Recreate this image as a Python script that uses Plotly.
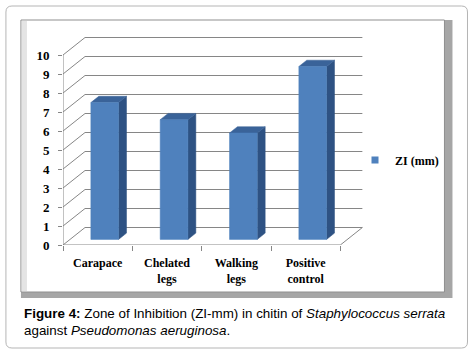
import plotly.graph_objects as go

categories = ["Carapace", "Chelated<br>legs", "Walking<br>legs", "Positive<br>control"]
zi_values = [7.2, 6.3, 5.6, 9.1]
y_ticks = list(range(0, 11))
series_name = "ZI (mm)"

# geometry (pixels) for the frame / plot mapping
FIG_W, FIG_H = 474, 354
L, B = 63, 245          # px of data (0,0)
PX_PER_CAT = 69.25
PX_PER_VAL = 19.0
XR = 4.5
YR = 11.0
W = XR * PX_PER_CAT
H = YR * PX_PER_VAL

DX = 22 / PX_PER_CAT    # depth offset in category units
DY = 17.5 / PX_PER_VAL  # depth offset in value units
D0, D1 = 0.32, 0.68     # bar depth extents
HW = 0.2                # half bar width

GRID = "#868686"
FRONT = "#4F81BD"
SIDE = "#2E5283"
TOP = "#3A6399"
SERIF = "Times New Roman, Liberation Serif, serif"
SANS = "Arial, Liberation Sans, sans-serif"


def px2x(px):
    return (px - L) / W


def py2y(py):
    return (B - py) / H


fig = go.Figure()

# walls: left wall diagonals + back wall gridlines
n = len(categories)
wx, wy = [], []
for v in y_ticks[1:]:
    wx += [0, DX, n + DX, None]
    wy += [v, v + DY, v + DY, None]
# floor
wx += [0, DX, n + DX, n, 0, None]
wy += [0, DY, DY, 0, 0, None]
# front value axis line
wx += [0, 0]
wy += [0, y_ticks[-1]]
fig.add_trace(go.Scatter(x=wx, y=wy, mode="lines", line=dict(color=GRID, width=1),
                         hoverinfo="skip", showlegend=False))

# 3D bars: front, side and top faces
for i, v in enumerate(zi_values):
    c = i + 0.5
    xl, xr = c - HW, c + HW
    fig.add_trace(go.Scatter(
        x=[xr + D0 * DX, xr + D1 * DX, xr + D1 * DX, xr + D0 * DX, xr + D0 * DX],
        y=[D0 * DY, D1 * DY, v + D1 * DY, v + D0 * DY, D0 * DY],
        mode="lines", fill="toself", fillcolor=SIDE, line=dict(color=SIDE, width=0.5),
        hoverinfo="skip", showlegend=False))
    fig.add_trace(go.Scatter(
        x=[xl + D0 * DX, xr + D0 * DX, xr + D1 * DX, xl + D1 * DX, xl + D0 * DX],
        y=[v + D0 * DY, v + D0 * DY, v + D1 * DY, v + D1 * DY, v + D0 * DY],
        mode="lines", fill="toself", fillcolor=TOP, line=dict(color=TOP, width=0.5),
        hoverinfo="skip", showlegend=False))
    fig.add_trace(go.Scatter(
        x=[xl + D0 * DX, xr + D0 * DX, xr + D0 * DX, xl + D0 * DX, xl + D0 * DX],
        y=[D0 * DY, D0 * DY, v + D0 * DY, v + D0 * DY, D0 * DY],
        mode="lines", fill="toself", fillcolor=FRONT, line=dict(color=FRONT, width=0.5),
        name=series_name, hovertemplate=f"{categories[i].replace('<br>', ' ')}: {v}<extra></extra>",
        showlegend=False))

# legend entry
fig.add_trace(go.Scatter(x=[None], y=[None], mode="markers",
                         marker=dict(symbol="square", size=7, color=FRONT),
                         name=series_name, showlegend=True))

shapes = []
# outer rounded border
x0, y0, x1, y1, r = 6, 6, 467, 348, 6
path = (f"M {px2x(x0 + r)},{py2y(y0)} L {px2x(x1 - r)},{py2y(y0)} "
        f"Q {px2x(x1)},{py2y(y0)} {px2x(x1)},{py2y(y0 + r)} "
        f"L {px2x(x1)},{py2y(y1 - r)} Q {px2x(x1)},{py2y(y1)} {px2x(x1 - r)},{py2y(y1)} "
        f"L {px2x(x0 + r)},{py2y(y1)} Q {px2x(x0)},{py2y(y1)} {px2x(x0)},{py2y(y1 - r)} "
        f"L {px2x(x0)},{py2y(y0 + r)} Q {px2x(x0)},{py2y(y0)} {px2x(x0 + r)},{py2y(y0)} Z")
shapes.append(dict(type="path", path=path, xref="paper", yref="paper",
                   line=dict(color="#b5b5b5", width=1), fillcolor="white", layer="below"))
# chart frame shadow
shapes.append(dict(type="rect", xref="paper", yref="paper",
                   x0=px2x(21), x1=px2x(452), y0=py2y(298), y1=py2y(20),
                   fillcolor="#a6a6a6", line=dict(width=0), layer="below"))
# chart frame
shapes.append(dict(type="rect", xref="paper", yref="paper",
                   x0=px2x(21), x1=px2x(444), y0=py2y(292), y1=py2y(20),
                   fillcolor="white", line=dict(color="#8f8f8f", width=1), layer="below"))
shapes.append(dict(type="rect", xref="paper", yref="paper",
                   x0=px2x(22), x1=px2x(27), y0=py2y(291), y1=py2y(21),
                   fillcolor="#e4e4e4", line=dict(width=0), layer="below"))

caption = ("<b>Figure 4:</b> Zone of Inhibition (ZI-mm) in chitin of <i>Staphylococcus serrata</i>"
           "<br>against <i>Pseudomonas aeruginosa</i>.")

fig.update_layout(
    width=FIG_W, height=FIG_H,
    margin=dict(l=L, r=FIG_W - L - W, t=B - H, b=FIG_H - B, pad=0, autoexpand=False),
    paper_bgcolor="white", plot_bgcolor="rgba(0,0,0,0)",
    showlegend=True,
    legend=dict(xref="container", yref="container", x=355 / FIG_W, y=1 - 160 / FIG_H,
                xanchor="left", yanchor="middle", bgcolor="rgba(0,0,0,0)",
                font=dict(family=SERIF, size=12, color="black", weight="bold")),
    xaxis=dict(range=[0, XR], tickmode="array", tickvals=[i + 0.5 for i in range(n)],
               ticktext=categories, ticks="", showgrid=False, zeroline=False, showline=False,
               ticklabelstandoff=9, automargin=False,
               tickfont=dict(family=SERIF, size=12, color="black", weight="bold"),
               minor=dict(tickmode="array", tickvals=list(range(n + 1)), ticks="outside",
                          ticklen=5, tickcolor=GRID, showgrid=False)),
    yaxis=dict(range=[0, YR], tickmode="array", tickvals=y_ticks,
               ticktext=[str(t) for t in y_ticks], ticks="outside", ticklen=4,
               tickcolor=GRID, showgrid=False, zeroline=False, showline=False,
               ticklabelstandoff=6, automargin=False,
               tickfont=dict(family=SERIF, size=13, color="black", weight="bold")),
    shapes=shapes,
    annotations=[dict(text=caption, xref="paper", yref="paper", x=px2x(22), y=py2y(304),
                      xanchor="left", yanchor="top", align="left", showarrow=False,
                      font=dict(family=SANS, size=13.4, color="black"))],
)

fig.write_html("out.html", config={"displayModeBar": False},
               post_script="document.body.style.margin='0';document.body.style.overflow='hidden';")
